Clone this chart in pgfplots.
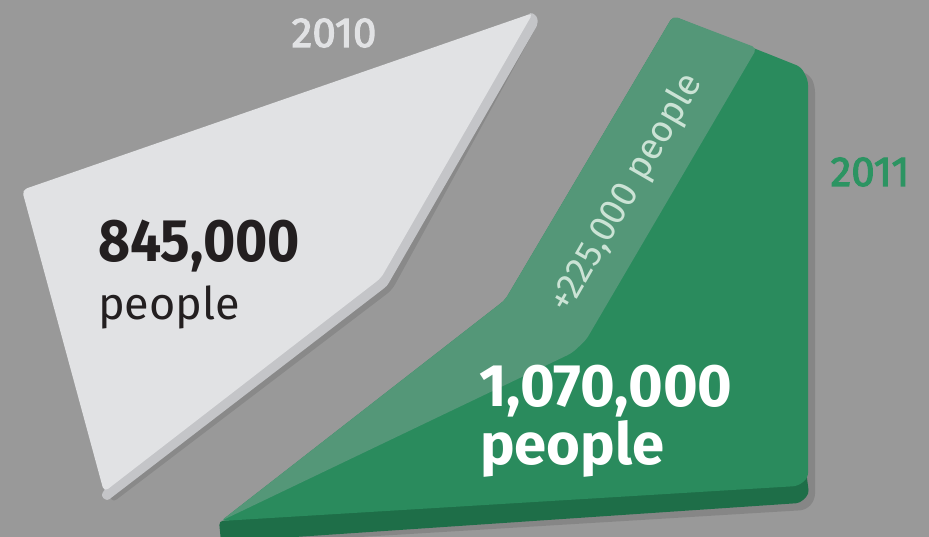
\documentclass[border=0pt]{standalone}
\usepackage{fontspec}
\setmainfont{Fira Sans}
\newfontfamily\yearfont[FakeBold=2.5]{Fira Sans}
\usepackage{pgfplots}
\pgfplotsset{compat=1.18}
\definecolor{bg}{HTML}{999999}
\definecolor{grayface}{HTML}{E1E2E4}
\definecolor{grayside}{HTML}{C4C5C8}
\definecolor{greenface}{HTML}{2A8B5D}
\definecolor{greenband}{HTML}{549778}
\definecolor{greenside}{HTML}{1E6E48}
\definecolor{greentxt}{HTML}{2C9462}
\definecolor{bandtxt}{HTML}{CBE3D5}
\definecolor{darktxt}{HTML}{231F20}
\begin{document}
\begin{tikzpicture}
\begin{axis}[width=929pt,height=537pt,scale only axis,hide axis,
  xmin=0,xmax=929,ymin=0,ymax=537,y dir=reverse,clip=true]
% background
\addplot[fill=bg,draw=none] coordinates {(0,0)(929,0)(929,537)(0,537)} --cycle;
% shadows
\addplot[fill=black,opacity=0.10,draw=none,rounded corners=6pt] coordinates {(27,197)(540,20)(392,290)(112,503)} --cycle;
\addplot[fill=black,opacity=0.12,draw=none,rounded corners=6pt] coordinates {(680,24)(810,75)(815,86)(815,500)(806,510)(228,545)(512,306)} --cycle;
% 2010 shape: side then face
\addplot[fill=grayside,draw=none,rounded corners=3pt] coordinates {(530,12)(537,16)(538,24)(387,286)(107,501)(101,496)(104,490)(381,277)} --cycle;
\addplot[fill=grayface,draw=none,rounded corners=5pt] coordinates {(22,190)(533,13)(381,278)(104,492)} --cycle;
% 2011 shape: side, face, band
\addplot[fill=greenside,draw=none,rounded corners=4pt] coordinates {(806,470)(809,494)(800,503)(221,542)(219,521)(806,476)} --cycle;
\addplot[fill=greenface,draw=none,rounded corners=5pt] coordinates {(673,16)(801,67)(808,80)(808,478)(798,486)(221,521)(505,300)} --cycle;
\addplot[fill=greenband,draw=none,rounded corners=5pt] coordinates {(673,16)(757,48)(586,340)(572,353)(225,519)(221,521)(505,300)} --cycle;
\end{axis}
\node[anchor=center,inner sep=0,text=grayface,font=\fontsize{42}{42}\selectfont\yearfont] at (334pt,{537pt-33pt}) {2010};
\node[anchor=center,inner sep=0,text=greentxt,font=\fontsize{42}{42}\selectfont\yearfont] at (870pt,{537pt-172pt}) {2011};
\node[anchor=base west,inner sep=0,xscale=0.92,text=darktxt,font=\fontsize{60}{60}\selectfont\bfseries] at (98pt,{537pt-262pt}) {845,000};
\node[anchor=base west,inner sep=0,text=darktxt,font=\fontsize{45}{45}\selectfont] at (98pt,{537pt-320pt}) {people};
\node[anchor=base west,inner sep=0,xscale=0.99,text=white,font=\fontsize{60}{60}\selectfont\bfseries] at (479pt,{537pt-407pt}) {1,070,000};
\node[anchor=base west,inner sep=0,xscale=1.0,text=white,font=\fontsize{58}{58}\selectfont\bfseries] at (480pt,{537pt-465pt}) {people};
\node[anchor=center,inner sep=0,rotate=60,text=bandtxt,font=\fontsize{37}{37}\selectfont] at (627pt,{537pt-193pt}) {+225,000 people};
\end{tikzpicture}
\end{document}
